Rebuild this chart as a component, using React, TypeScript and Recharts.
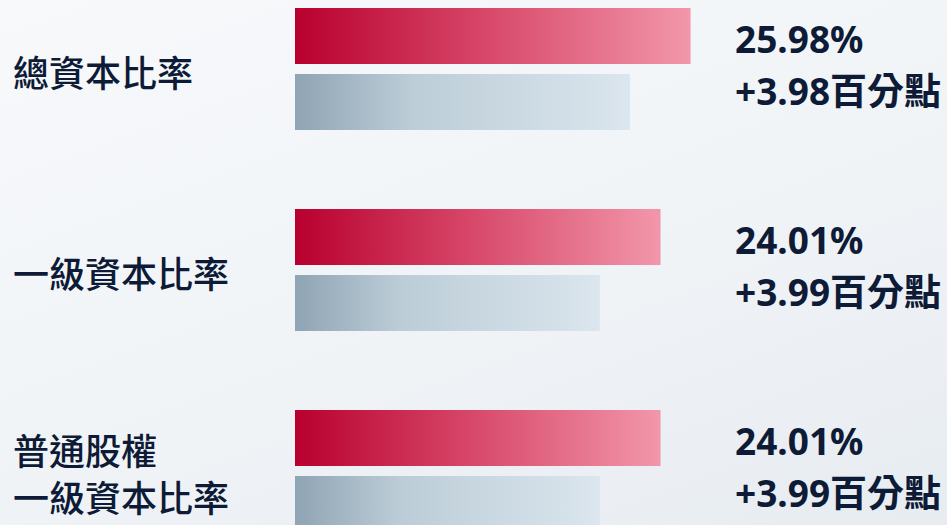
import { BarChart, Bar, XAxis, YAxis } from "recharts";

// capital ratios, current vs prior period (%)
const categories = ["總資本比率", "一級資本比率", "普通股權\n一級資本比率"];
const currentRatio = [25.98, 24.01, 24.01];
const priorRatio = [22.0, 20.02, 20.02];
const changePoints = [3.98, 3.99, 3.99];

const data = categories.map((name, i) => ({
  name,
  current: currentRatio[i],
  prior: priorRatio[i],
  change: changePoints[i],
}));

const TEXT = "#0e1b36";
const FONT = "'Noto Sans', 'Noto Sans CJK TC', sans-serif";

function CategoryTick(props: any) {
  const { x, y, payload } = props;
  const lines = String(payload.value).split("\n");
  const lineH = 46.5;
  const start = y + 2 - ((lines.length - 1) * lineH) / 2;
  return (
    <g>
      {lines.map((line, i) => (
        <text
          key={i}
          x={x - 282}
          y={start + i * lineH}
          dominantBaseline="central"
          fill={TEXT}
          fontSize={36}
          fontWeight={500}
          fontFamily="'Noto Sans CJK TC', sans-serif"
        >
          {line}
        </text>
      ))}
    </g>
  );
}

function ValueTick(props: any) {
  const { x, y, index } = props;
  const row = data[index];
  if (!row) return null;
  return (
    <g fill={TEXT} fontSize={37} fontWeight={700} fontFamily={FONT}>
      <text x={x} y={y - 16}>
        {row.current.toFixed(2)}%
      </text>
      <text x={x} y={y + 36}>
        +{row.change.toFixed(2)}百分點
      </text>
    </g>
  );
}

export default function App() {
  return (
    <div
      style={{
        position: "absolute",
        left: 0,
        top: 0,
        width: 947,
        height: 525,
        overflow: "hidden",
        background: "linear-gradient(160deg, #f7f9fb 0%, #f1f4f7 50%, #e7ecf1 100%)",
      }}
    >
      <div style={{ position: "relative", top: -32 }}>
        <BarChart
          width={947}
          height={603}
          data={data}
          layout="vertical"
          margin={{ top: 0, right: 0, bottom: 0, left: 0 }}
          barSize={56}
          barGap={10}
        >
          <defs>
            <linearGradient id="redGrad" x1="0" y1="0" x2="1" y2="0">
              <stop offset="0%" stopColor="#b8002e" />
              <stop offset="50%" stopColor="#d84a6b" />
              <stop offset="100%" stopColor="#f297ab" />
            </linearGradient>
            <linearGradient id="greyGrad" x1="0" y1="0" x2="1" y2="0">
              <stop offset="0%" stopColor="#8fa4b4" />
              <stop offset="35%" stopColor="#bccdd7" />
              <stop offset="100%" stopColor="#dbe6ee" />
            </linearGradient>
          </defs>
          <XAxis type="number" domain={[0, 28.9]} hide />
          <YAxis
            type="category"
            dataKey="name"
            width={295}
            axisLine={false}
            tickLine={false}
            tickSize={0}
            tickMargin={0}
            tick={<CategoryTick />}
          />
          <YAxis
            yAxisId="right"
            orientation="right"
            type="category"
            dataKey="name"
            width={212}
            axisLine={false}
            tickLine={false}
            tickSize={0}
            tickMargin={0}
            tick={<ValueTick />}
          />
          <Bar dataKey="current" fill="url(#redGrad)" isAnimationActive={false} />
          <Bar dataKey="prior" fill="url(#greyGrad)" isAnimationActive={false} />
        </BarChart>
      </div>
    </div>
  );
}
